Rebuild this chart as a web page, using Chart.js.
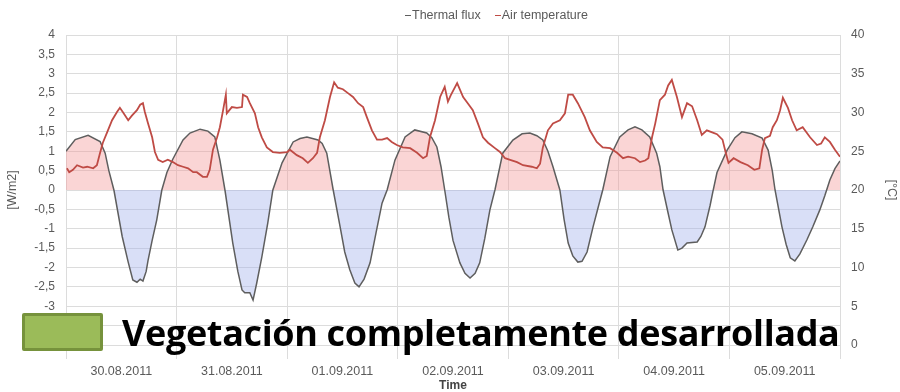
<!DOCTYPE html>
<html>
<head>
<meta charset="utf-8">
<script src="https://cdn.jsdelivr.net/npm/chart.js@4.4.1/dist/chart.umd.min.js"></script>
<style>
  html, body { margin: 0; padding: 0; background: #fff; }
  #wrap { position: relative; width: 900px; height: 392px; overflow: hidden; }
  #chart { position: absolute; left: 0; top: 0; }
  #legend {
    position: absolute; left: 405px; top: 8px;
    font: 12.5px "Liberation Sans", Arial, sans-serif; color: #5a5a5a;
    white-space: nowrap; line-height: 14px;
  }
  #legend .item { display: inline-block; margin-right: 14px; }
  #legend .mark { display: inline-block; width: 6px; height: 1.5px; vertical-align: middle; margin-right: 1px; }
  #vegBox {
    position: absolute; left: 22px; top: 313px; width: 75px; height: 32px;
    background: #9bbb59; border: 3px solid #76923c; border-radius: 2px;
  }
  #vegText {
    position: absolute; left: 122px; top: 315px;
    font: 700 36px "Open Sans", sans-serif; letter-spacing: -0.35px; color: #000;
    white-space: nowrap; line-height: 1;
  }
</style>
</head>
<body>
<div id="wrap">
  <canvas id="chart" width="900" height="392"></canvas>
  <div id="legend"></div>
  <div id="vegBox"></div>
  <div id="vegText">Vegetación completamente desarrollada</div>
</div>
<script>
// Day labels, shown at noon of each day (hours counted from 30.08.2011 00:00)
const dayLabels = ['30.08.2011', '31.08.2011', '01.09.2011', '02.09.2011', '03.09.2011', '04.09.2011', '05.09.2011'];

// Thermal flux [W/m2]
const fluxHours = [0.0,2.0,4.8,7.4,8.5,9.3,10.4,11.3,12.2,13.5,
  14.5,15.4,16.1,16.7,17.4,17.8,18.7,19.7,20.8,21.9,
  23.2,25.4,26.9,29.1,30.8,32.3,33.4,34.5,36.2,37.3,
  38.2,38.8,39.9,40.6,41.4,42.5,43.8,44.9,46.9,49.3,
  50.8,52.3,54.7,55.6,56.6,58.0,59.5,60.5,61.6,62.7,
  63.6,64.7,66.0,67.3,68.6,69.7,71.4,73.6,75.7,78.3,
  79.4,80.5,81.4,82.2,83.1,84.0,85.5,86.6,87.7,88.8,
  89.8,90.9,92.0,93.1,94.8,97.0,99.0,100.7,102.2,103.5,
  104.6,105.7,107.2,108.1,109.0,110.0,111.1,112.0,113.1,114.4,
  115.5,116.5,118.1,120.2,122.0,123.5,125.0,126.7,128.2,128.9,
  129.6,130.7,131.5,132.8,133.7,134.8,137.0,137.8,138.7,139.8,
  140.4,141.3,143.5,145.2,146.7,148.9,151.1,152.4,153.3,153.9,
  155.4,156.3,157.2,158.2,159.3,160.8,162.1,163.6,164.7,165.8,
  166.9,168.0];
const fluxValues = [1.00,1.30,1.41,1.25,0.95,0.50,0.00,-0.60,-1.20,-1.86,
  -2.32,-2.38,-2.30,-2.35,-2.10,-1.82,-1.30,-0.77,0.00,0.45,
  0.80,1.29,1.47,1.57,1.52,1.37,0.77,0.00,-1.37,-2.10,
  -2.58,-2.65,-2.65,-2.84,-2.40,-1.73,-0.85,0.00,0.70,1.24,
  1.33,1.37,1.29,1.20,0.95,0.00,-0.95,-1.60,-2.06,-2.40,
  -2.50,-2.30,-1.88,-1.10,-0.34,0.00,0.77,1.37,1.55,1.47,
  1.35,1.11,0.60,0.00,-0.70,-1.30,-1.88,-2.15,-2.27,-2.15,
  -1.88,-1.25,-0.52,0.00,0.95,1.29,1.45,1.47,1.40,1.29,
  1.00,0.60,0.00,-0.75,-1.37,-1.70,-1.86,-1.84,-1.60,-0.95,
  -0.45,0.00,0.86,1.37,1.55,1.63,1.55,1.37,0.95,0.60,
  0.00,-0.60,-1.03,-1.55,-1.50,-1.37,-1.34,-1.20,-0.95,-0.40,
  -0.05,0.45,1.03,1.35,1.50,1.45,1.34,1.03,0.50,0.00,
  -0.95,-1.40,-1.75,-1.83,-1.65,-1.29,-0.95,-0.52,-0.15,0.26,
  0.55,0.75];

// Air temperature [°C]
const tempHours = [0.2,0.7,1.5,2.4,3.7,4.6,5.9,6.7,7.4,8.0,
  8.9,10.0,11.1,11.7,12.4,13.5,14.3,15.4,16.1,16.7,
  17.1,17.8,18.7,19.3,20.0,21.0,22.1,23.2,24.3,25.4,
  26.5,27.6,28.4,29.7,30.6,31.2,31.9,32.8,33.4,34.1,
  34.7,34.9,36.0,37.1,38.2,38.4,39.3,39.9,41.0,41.7,
  42.5,43.6,44.9,46.4,48.0,48.6,50.1,51.4,52.5,53.6,
  54.5,55.1,56.2,57.3,58.2,59.0,60.1,61.2,62.3,63.4,
  64.5,65.3,66.4,67.5,68.6,69.7,70.7,71.8,73.1,74.7,
  76.2,77.5,78.3,79.0,80.1,81.2,82.2,82.9,83.5,84.9,
  86.2,87.2,88.3,89.4,90.5,91.6,93.1,94.2,95.3,96.4,
  97.9,99.2,101.1,102.2,102.9,103.5,104.6,105.7,107.2,108.3,
  109.0,110.0,111.1,112.2,112.6,113.7,115.2,116.5,118.1,119.6,
  120.9,122.0,123.5,124.6,125.7,126.4,127.2,127.9,128.9,130.0,
  130.7,131.5,132.6,133.7,134.8,135.9,137.0,138.0,139.1,140.4,
  141.3,142.5,143.2,143.8,144.9,146.4,148.0,149.4,150.5,151.1,
  151.7,152.8,153.4,154.3,155.0,155.6,156.7,157.6,158.6,159.9,
  161.5,163.0,163.9,164.7,165.8,166.9,168.0];
const tempValues = [22.8,22.3,22.6,23.2,22.9,23.0,22.8,23.2,24.8,26.1,
  27.4,29.0,30.1,30.6,30.0,29.0,29.6,30.3,31.0,31.2,
  30.1,28.6,26.8,24.9,23.9,23.6,23.9,23.6,23.2,23.0,
  22.8,22.3,22.3,21.7,21.7,22.6,25.2,26.8,28.1,30.3,
  32.3,29.9,30.7,30.6,30.7,32.3,32.0,31.2,29.9,28.1,
  26.8,25.5,24.9,24.8,24.9,25.2,24.5,24.1,23.5,24.1,
  24.8,26.8,29.0,32.0,33.9,33.2,33.0,32.5,32.0,31.2,
  30.7,29.4,27.7,26.5,26.5,26.7,26.2,25.8,25.5,25.4,
  24.8,24.1,24.4,26.8,29.0,32.0,33.3,31.4,32.2,33.8,
  32.0,31.2,30.3,28.6,26.8,26.1,25.4,24.9,24.1,23.9,
  23.6,23.2,23.0,22.8,23.4,25.5,27.7,28.6,29.0,29.9,
  32.3,32.3,31.2,29.9,29.4,27.7,26.2,25.5,25.4,24.8,
  24.1,24.3,24.1,23.6,23.8,24.1,26.8,28.6,31.6,32.3,
  33.5,34.2,32.0,29.4,31.2,30.8,29.0,27.1,27.7,27.4,
  27.2,26.5,24.8,23.5,24.1,23.6,23.2,22.6,22.8,25.2,
  26.7,27.0,28.1,29.0,30.3,31.9,30.6,29.0,27.7,28.1,
  26.8,25.8,26.0,26.8,26.2,25.2,24.3];

const fontFamily = '"Liberation Sans", Arial, sans-serif';
const tickColor = '#5a5a5a';
const gridColor = '#dcdcdc';

const toPoints = (xs, ys) => xs.map((x, i) => ({ x: x, y: ys[i] }));

const chart = new Chart(document.getElementById('chart'), {
  type: 'line',
  data: {
    datasets: [
      {
        label: 'Thermal flux',
        data: toPoints(fluxHours, fluxValues),
        yAxisID: 'yFlux',
        borderColor: '#5e5e5e',
        borderWidth: 1.5,
        pointRadius: 0,
        tension: 0,
        order: 2,
        fill: { target: 'origin', above: 'rgba(242,150,150,0.4)', below: 'rgba(160,175,235,0.4)' }
      },
      {
        label: 'Air temperature',
        data: toPoints(tempHours, tempValues),
        yAxisID: 'yTemp',
        borderColor: '#bf4b45',
        borderWidth: 1.8,
        pointRadius: 0,
        tension: 0,
        order: 1,
        fill: false
      }
    ]
  },
  options: {
    responsive: false,
    animation: false,
    devicePixelRatio: 1,
    layout: { padding: { top: 35, left: 0, right: 0, bottom: 0 } },
    plugins: { legend: { display: false }, tooltip: { enabled: false } },
    scales: {
      x: {
        type: 'linear',
        min: 0,
        max: 168,
        border: { display: false },
        grid: {
          color: ctx => (ctx.tick && ctx.tick.value % 24 === 0) ? gridColor : 'rgba(0,0,0,0)',
          tickLength: 14
        },
        ticks: {
          stepSize: 12,
          autoSkip: false,
          maxRotation: 0,
          padding: 5,
          font: { family: fontFamily, size: 12.5 },
          color: tickColor,
          callback: v => (v % 24 === 12) ? dayLabels[(v - 12) / 24] : ''
        },
        title: { display: true, text: 'Time', color: '#444', font: { family: fontFamily, size: 12, weight: 'bold' }, padding: { top: 0, bottom: -1 } },
        afterFit: s => { s.height = 47; }
      },
      yFlux: {
        position: 'left',
        min: -4,
        max: 4,
        border: { display: false },
        grid: { color: gridColor, drawTicks: false },
        ticks: {
          stepSize: 0.5,
          padding: 11,
          font: { family: fontFamily, size: 12 },
          color: tickColor,
          callback: v => String(v).replace('.', ',')
        },
        title: { display: true, text: '[W/m2]', color: tickColor, font: { family: fontFamily, size: 12.5 }, padding: { top: 5, bottom: 0 } },
        afterFit: s => { s.width = 66; }
      },
      yTemp: {
        position: 'right',
        min: 0,
        max: 40,
        border: { display: false },
        grid: { drawOnChartArea: false, drawTicks: false },
        ticks: { stepSize: 5, padding: 11, font: { family: fontFamily, size: 12 }, color: tickColor },
        title: { display: true, text: '[°C]', color: tickColor, font: { family: fontFamily, size: 12.5 }, padding: { top: 1, bottom: 0 } },
        afterFit: s => { s.width = 60; }
      }
    }
  }
});

// Legend built from the chart's datasets
const legend = document.getElementById('legend');
chart.data.datasets.forEach(ds => {
  const item = document.createElement('span');
  item.className = 'item';
  const mark = document.createElement('span');
  mark.className = 'mark';
  mark.style.background = ds.borderColor;
  item.appendChild(mark);
  item.appendChild(document.createTextNode(ds.label));
  legend.appendChild(item);
});
</script>
</body>
</html>
